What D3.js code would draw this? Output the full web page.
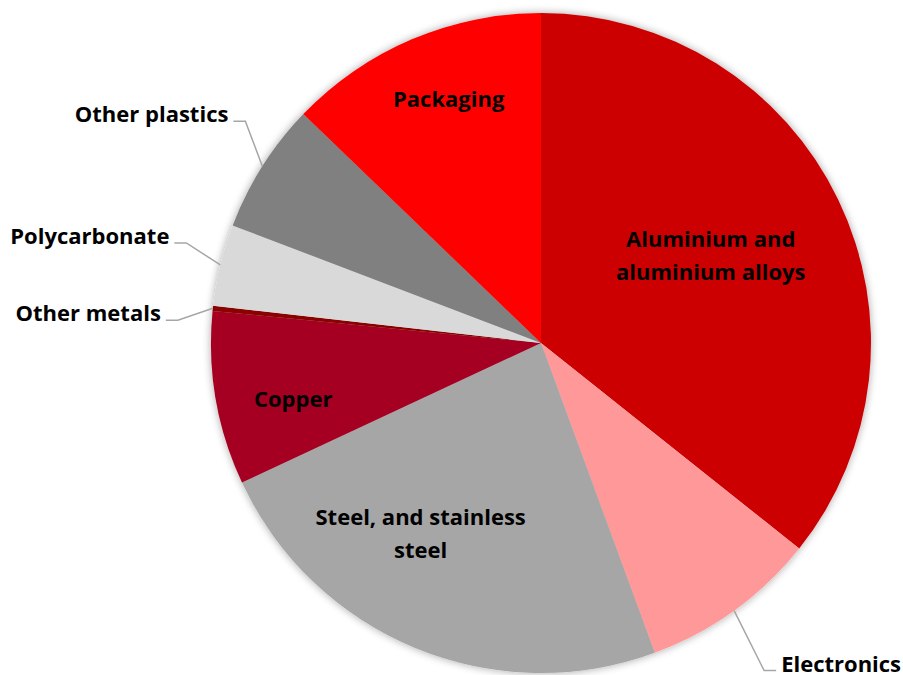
<!DOCTYPE html>
<html>
<head>
<meta charset="utf-8">
<script src="https://cdn.jsdelivr.net/npm/d3@7"></script>
<style>
  html, body { margin: 0; padding: 0; background: #fff; }
  svg text { font-family: "Open Sans", Lato, sans-serif; font-weight: bold; fill: #000; }
</style>
</head>
<body>
<div id="chart"></div>
<script>
// Slices, clockwise from 12 o'clock (percent share)
const categories = ['Aluminium and aluminium alloys', 'Electronics', 'Steel, and stainless steel',
    'Copper', 'Other metals', 'Polycarbonate', 'Other plastics', 'Packaging'];
const shares = [35.7, 8.7, 23.65, 8.5, 0.25, 4.0, 6.4, 12.8];
const colours = ['#cc0000', '#ff9999', '#a6a6a6', '#a50021', '#8b0000', '#d9d9d9', '#808080', '#ff0000'];

// Label text lines for each slice
const labelLines = [
    ['Aluminium and', 'aluminium alloys'],
    ['Electronics'],
    ['Steel, and stainless', 'steel'],
    ['Copper'],
    ['Other metals'],
    ['Polycarbonate'],
    ['Other plastics'],
    ['Packaging']
];

const width = 903, height = 675;
const cx = 541, cy = 343, radius = 330;

// Inside labels: radius fraction and angle nudge (degrees) from slice mid angle
const insideLayout = {
    0: { k: 0.57, nudge: 0.2 },
    2: { k: 0.70, nudge: 9 },
    3: { k: 0.77, nudge: -3 },
    7: { k: 0.79, nudge: 2.3 }
};
// Outside labels: elbow offset from the slice edge point, and side
const outsideLayout = {
    1: { dx: 30, dy: 60, side: 1 },
    4: { dx: -35, dy: 12, side: -1 },
    5: { dx: -34, dy: -22, side: -1 },
    6: { dx: -17, dy: -45, side: -1 }
};

const svg = d3.select('#chart').append('svg')
    .attr('width', width)
    .attr('height', height);

const defs = svg.append('defs');
const shadow = defs.append('filter')
    .attr('id', 'shadow')
    .attr('x', '-10%').attr('y', '-10%')
    .attr('width', '120%').attr('height', '120%');
shadow.append('feGaussianBlur').attr('in', 'SourceAlpha').attr('stdDeviation', 4).attr('result', 'blur');
shadow.append('feComponentTransfer').attr('in', 'blur').attr('result', 'soft')
    .append('feFuncA').attr('type', 'linear').attr('slope', 0.35);
const merge = shadow.append('feMerge');
merge.append('feMergeNode').attr('in', 'soft');
merge.append('feMergeNode').attr('in', 'SourceGraphic');

const pie = d3.pie().sort(null).value(d => d);
const arcs = pie(shares);
const arc = d3.arc().innerRadius(0).outerRadius(radius);

const g = svg.append('g').attr('transform', `translate(${cx},${cy})`);

g.append('g')
    .attr('filter', 'url(#shadow)')
    .selectAll('path')
    .data(arcs)
    .enter()
    .append('path')
    .attr('d', arc)
    .attr('fill', (d, i) => colours[i]);

const fontSize = 22;
const lineGap = 33;

// Polar helper: angle measured clockwise from 12 o'clock
const polar = (a, r) => [r * Math.sin(a), -r * Math.cos(a)];

arcs.forEach((d, i) => {
    const mid = (d.startAngle + d.endAngle) / 2;
    const lines = labelLines[i];

    if (insideLayout[i]) {
        const L = insideLayout[i];
        const [x, y] = polar(mid + L.nudge * Math.PI / 180, radius * L.k);
        const t = g.append('text')
            .attr('text-anchor', 'middle')
            .style('font-size', fontSize + 'px');
        const y0 = y + 8 - (lines.length - 1) * (lineGap / 2 + 6.5);
        lines.forEach((s, j) => {
            t.append('tspan').attr('x', x).attr('y', y0 + j * lineGap).text(s);
        });
    } else {
        const L = outsideLayout[i];
        const [ex, ey] = polar(mid, radius);
        const bx = ex + L.dx, by = ey + L.dy;
        const hx = bx + L.side * 12;
        g.append('polyline')
            .attr('points', [[ex, ey], [bx, by], [hx, by]].map(p => p.join(',')).join(' '))
            .attr('fill', 'none')
            .attr('stroke', '#a6a6a6')
            .attr('stroke-width', 1.5);
        g.append('text')
            .attr('x', hx + L.side * 5)
            .attr('y', by + 1)
            .attr('text-anchor', L.side > 0 ? 'start' : 'end')
            .style('font-size', fontSize + 'px')
            .text(lines[0]);
    }
});
</script>
</body>
</html>
